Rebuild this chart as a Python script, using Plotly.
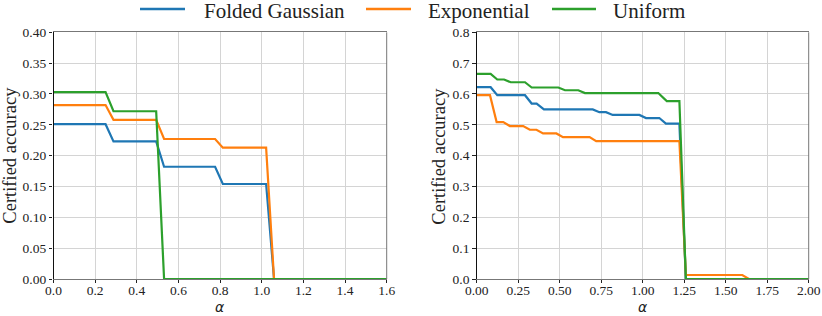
import plotly.graph_objects as go

# ---- data: left panel ----
left_fg_x = [0, 0.25, 0.288, 0.493, 0.531, 0.776, 0.813, 1.021, 1.059, 1.6]
left_fg_y = [0.251, 0.251, 0.223, 0.223, 0.182, 0.182, 0.154, 0.154, 0.0, 0.0]
left_exp_x = [0, 0.25, 0.288, 0.493, 0.531, 0.776, 0.813, 1.021, 1.059, 1.6]
left_exp_y = [0.282, 0.282, 0.258, 0.258, 0.227, 0.227, 0.213, 0.213, 0.0, 0.0]
left_uni_x = [0, 0.25, 0.288, 0.493, 0.531, 1.6]
left_uni_y = [0.303, 0.303, 0.272, 0.272, 0.0, 0.0]

# ---- data: right panel ----
right_fg_x = [0, 0.084, 0.124, 0.291, 0.331, 0.361, 0.405, 0.699, 0.739, 0.779, 0.819,
              0.98, 1.02, 1.1, 1.14, 1.221, 1.26, 2.0]
right_fg_y = [0.622, 0.622, 0.596, 0.596, 0.569, 0.569, 0.55, 0.55, 0.541, 0.541, 0.532,
              0.532, 0.522, 0.522, 0.504, 0.504, 0.0, 0.0]
right_exp_x = [0, 0.08, 0.12, 0.16, 0.2, 0.28, 0.32, 0.36, 0.4, 0.48, 0.52, 0.68, 0.72,
               1.221, 1.26, 1.6, 1.64, 2.0]
right_exp_y = [0.596, 0.596, 0.509, 0.509, 0.496, 0.496, 0.484, 0.484, 0.472, 0.472, 0.46,
               0.46, 0.447, 0.447, 0.013, 0.013, 0.0, 0.0]
right_uni_x = [0, 0.084, 0.124, 0.165, 0.205, 0.291, 0.331, 0.492, 0.532, 0.612, 0.652,
               1.094, 1.145, 1.221, 1.26, 2.0]
right_uni_y = [0.665, 0.665, 0.647, 0.647, 0.638, 0.638, 0.621, 0.621, 0.612, 0.612, 0.603,
               0.603, 0.577, 0.577, 0.0, 0.0]

series_names = ["Folded Gaussian", "Exponential", "Uniform"]
colors = ["#1f77b4", "#ff7f0e", "#2ca02c"]

left_tick_y = [0, 0.05, 0.1, 0.15, 0.2, 0.25, 0.3, 0.35, 0.4]
left_tick_x = [0, 0.2, 0.4, 0.6, 0.8, 1.0, 1.2, 1.4, 1.6]
right_tick_y = [0, 0.1, 0.2, 0.3, 0.4, 0.5, 0.6, 0.7, 0.8]
right_tick_x = [0, 0.25, 0.5, 0.75, 1.0, 1.25, 1.5, 1.75, 2.0]

FONT = "Liberation Serif"
W, H = 822, 316


def px(x):  # page x -> paper fraction
    return x / W


def py(y):  # page y -> paper fraction
    return 1 - y / H


fig = go.Figure()
left = [(left_fg_x, left_fg_y), (left_exp_x, left_exp_y), (left_uni_x, left_uni_y)]
right = [(right_fg_x, right_fg_y), (right_exp_x, right_exp_y), (right_uni_x, right_uni_y)]
for i, (xs, ys) in enumerate(left):
    fig.add_trace(go.Scatter(x=xs, y=ys, mode="lines", name=series_names[i],
                             line=dict(color=colors[i], width=2.2),
                             xaxis="x", yaxis="y", showlegend=False))
for i, (xs, ys) in enumerate(right):
    fig.add_trace(go.Scatter(x=xs, y=ys, mode="lines", name=series_names[i],
                             line=dict(color=colors[i], width=2.2),
                             xaxis="x2", yaxis="y2", showlegend=False))

# plot-area geometry in page pixels
L1, R1 = 53.5, 386.7
L2, R2 = 476.7, 808.7
T, B = 32.3, 279.0
ydom = [py(B), py(T)]

tickfont = dict(family=FONT, size=13.5, color="#222")
common_x = dict(showgrid=True, gridcolor="#d4d4d4", gridwidth=1, showline=True,
                linecolor="#777", linewidth=1, mirror=True, ticks="outside",
                ticklen=3, tickcolor="#222", tickfont=tickfont, zeroline=False,
                automargin=False)
common_y = dict(showgrid=True, gridcolor="#d4d4d4", gridwidth=1, showline=True,
                linecolor="#111", linewidth=1.2, mirror=False, ticks="outside",
                ticklen=3.5, tickcolor="#222", tickfont=tickfont, zeroline=False,
                automargin=False)

annotations = []
# axis titles
for cx in [(L1 + R1) / 2, (L2 + R2) / 2]:
    annotations.append(dict(text="<i>α</i>", x=px(cx), y=py(307), xref="paper", yref="paper",
                            xanchor="center", yanchor="middle", showarrow=False,
                            font=dict(family="DejaVu Sans", size=14, color="#222")))
for cx in [10, 439]:
    annotations.append(dict(text="Certified accuracy", x=px(cx), y=py((T + B) / 2),
                            xref="paper", yref="paper", textangle=-90,
                            xanchor="center", yanchor="middle", showarrow=False,
                            font=dict(family=FONT, size=18.5, color="#222")))

# legend (drawn manually)
legend_line_x = [(140, 185), (366, 411), (552, 596)]
legend_text_x = [202, 426, 611]
shapes = []
for i in range(3):
    x0, x1 = legend_line_x[i]
    shapes.append(dict(type="line", xref="paper", yref="paper", x0=px(x0), x1=px(x1),
                       y0=py(9), y1=py(9), line=dict(color=colors[i], width=2.6)))
    annotations.append(dict(text=series_names[i], x=px(legend_text_x[i]), y=py(11),
                            xref="paper", yref="paper", xanchor="left", yanchor="middle",
                            showarrow=False, font=dict(family=FONT, size=21, color="#222")))

shapes += [
    dict(type="line", xref="x domain", yref="y domain", x0=1, x1=1, y0=0, y1=1,
         line=dict(color="#777", width=1)),
    dict(type="line", xref="x2 domain", yref="y2 domain", x0=1, x1=1, y0=0, y1=1,
         line=dict(color="#777", width=1)),
]

fig.update_layout(
    width=W, height=H,
    margin=dict(l=0, r=0, t=0, b=0, autoexpand=False),
    paper_bgcolor="white", plot_bgcolor="white",
    showlegend=False,
    font=dict(family=FONT, color="#222"),
    xaxis=dict(domain=[px(L1), px(R1)], range=[0, 1.6], tickvals=left_tick_x,
               tickformat=".1f", anchor="y", **common_x),
    yaxis=dict(domain=ydom, range=[0, 0.4], tickvals=left_tick_y, tickformat=".2f",
               anchor="x", **common_y),
    xaxis2=dict(domain=[px(L2), px(R2)], range=[0, 2.0], tickvals=right_tick_x,
                tickformat=".2f", anchor="y2", **common_x),
    yaxis2=dict(domain=ydom, range=[0, 0.8], tickvals=right_tick_y, tickformat=".1f",
                anchor="x2", **common_y),
    annotations=annotations,
    shapes=shapes,
)

# pull the x tick labels a little closer to the axis, as in the reference
try:
    fig.update_xaxes(ticklabelstandoff=-4)
except Exception:
    pass

fig.write_html("out.html", config={"displayModeBar": False},
               post_script="document.body.style.margin='0';")
